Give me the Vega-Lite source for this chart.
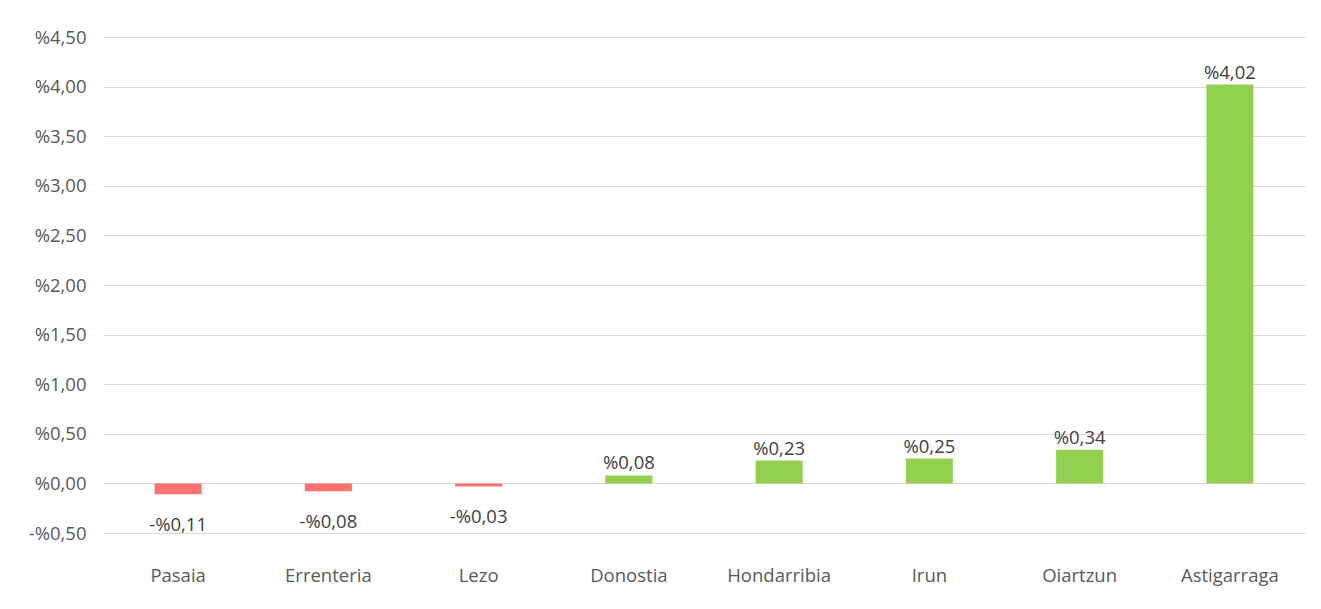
{
  "$schema": "https://vega.github.io/schema/vega-lite/v6.json",
  "width": 1202,
  "height": 496,
  "autosize": {"type": "none"},
  "padding": {"left": 103, "top": 37, "right": 16, "bottom": 76},
  "background": "white",
  "config": {
    "view": {"stroke": null},
    "locale": {"number": {"decimal": ",", "thousands": ".", "grouping": [3], "currency": ["%", ""], "minus": "-"}},
    "font": "Open Sans"
  },
  "data": {"values": [
    {"herria": "Pasaia", "balioa": -0.11},
    {"herria": "Errenteria", "balioa": -0.08},
    {"herria": "Lezo", "balioa": -0.03},
    {"herria": "Donostia", "balioa": 0.08},
    {"herria": "Hondarribia", "balioa": 0.23},
    {"herria": "Irun", "balioa": 0.25},
    {"herria": "Oiartzun", "balioa": 0.34},
    {"herria": "Astigarraga", "balioa": 4.02}
  ]},
  "encoding": {
    "x": {"field": "herria", "type": "nominal", "sort": null,
      "scale": {"paddingInner": 0.687, "paddingOuter": 0.3435},
      "axis": {"title": null, "domain": false, "ticks": false, "labelAngle": 0, "labelPadding": 33, "labelFontSize": 18.5, "labelColor": "#595959", "labelFont": "Open Sans"}},
    "y": {"field": "balioa", "type": "quantitative",
      "scale": {"domain": [-0.5, 4.5], "nice": false, "zero": false},
      "axis": {"title": null, "domain": false, "ticks": false, "values": [-0.5, 0, 0.5, 1, 1.5, 2, 2.5, 3, 3.5, 4, 4.5], "format": "$.2f", "labelPadding": 17, "labelFontSize": 18.5, "labelFont": "Open Sans", "labelColor": "#595959", "gridColor": "#d9d9d9", "gridWidth": 1}}
  },
  "layer": [
    {"mark": {"type": "bar"},
     "encoding": {
       "y": {"field": "balioa", "type": "quantitative"},
       "y2": {"datum": 0},
       "color": {"condition": {"test": "datum.balioa < 0", "value": "#ff7070"}, "value": "#92d050"}
     }},
    {"transform": [{"filter": "datum.balioa >= 0"}],
     "mark": {"type": "text", "baseline": "bottom", "dy": -2, "fontSize": 18.5, "color": "#404040"},
     "encoding": {"text": {"field": "balioa", "type": "quantitative", "format": "$.2f"}}},
    {"transform": [{"filter": "datum.balioa < 0"}],
     "mark": {"type": "text", "baseline": "middle", "dy": 31, "fontSize": 18.5, "color": "#404040"},
     "encoding": {"text": {"field": "balioa", "type": "quantitative", "format": "$.2f"}}}
  ]
}
